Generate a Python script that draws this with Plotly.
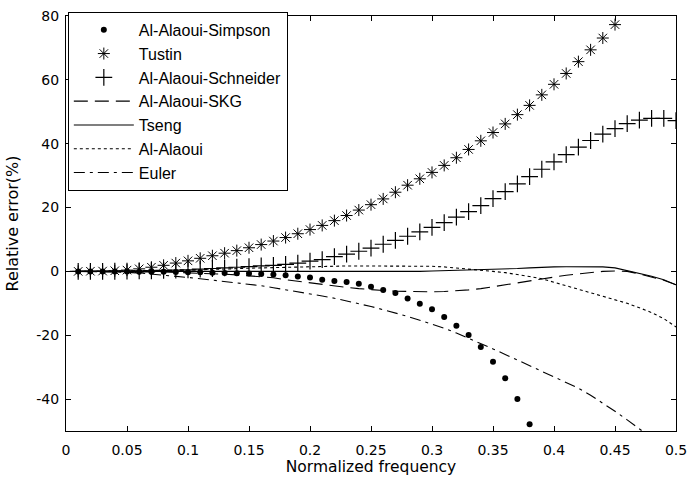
import plotly.graph_objects as go

# Normalized frequency samples
freq = [round(0.01 * k, 2) for k in range(1, 51)]

# Relative error (%) of each discretization method
tustin = [0.0, 0.05, 0.1, 0.2, 0.4, 0.8, 1.3, 1.9, 2.6, 3.3,
          4.1, 4.9, 5.7, 6.5, 7.4, 8.4, 9.5, 10.6, 11.8, 13.1,
          14.4, 15.9, 17.5, 19.2, 20.9, 22.7, 24.8, 27.0, 29.0, 31.0,
          33.2, 35.6, 38.2, 40.9, 43.5, 46.2, 49.1, 52.0, 55.3, 58.6,
          62.0, 65.7, 69.4, 73.1, 77.3]

schneider = [0.0, 0.0, 0.0, 0.05, 0.1, 0.15, 0.2, 0.3, 0.4, 0.5,
             0.7, 0.9, 1.1, 1.3, 1.5, 1.7, 1.9, 2.2, 2.6, 3.2,
             3.7, 4.6, 5.4, 6.3, 7.3, 8.5, 9.7, 11.0, 12.4, 13.8,
             15.3, 17.0, 18.7, 20.6, 22.8, 25.0, 27.4, 29.7, 32.0, 34.3,
             36.6, 38.9, 41.0, 43.0, 44.7, 46.3, 47.4, 47.9, 47.9, 47.2]

simpson = [0.0, 0.0, 0.0, 0.0, -0.05, -0.1, -0.1, -0.15, -0.2, -0.25,
           -0.3, -0.4, -0.5, -0.6, -0.7, -0.8, -1.0, -1.2, -1.6, -1.9,
           -2.6, -3.0, -3.3, -3.9, -4.8, -5.8, -6.8, -8.5, -10.1, -11.9,
           -14.3, -17.0, -19.9, -23.7, -28.3, -33.5, -40.0, -47.9]

skg = [0.0, 0.0, 0.0, -0.02, -0.05, -0.08, -0.12, -0.2, -0.3, -0.4,
       -0.55, -0.7, -0.9, -1.1, -1.35, -1.6, -2.0, -2.6, -3.1, -3.7,
       -4.2, -4.6, -5.0, -5.4, -5.8, -6.0, -6.2, -6.3, -6.35, -6.4,
       -6.3, -6.1, -5.8, -5.4, -4.8, -4.0, -3.4, -2.8, -2.3, -1.8,
       -1.2, -0.8, -0.4, 0.0, 0.1, 0.0, -0.8, -1.8, -2.8, -4.2]

tseng = [0.0, 0.0, 0.0, 0.0, 0.0, 0.0, 0.0, 0.0, 0.0, 0.0,
         0.0, 0.0, -0.02, -0.03, -0.04, -0.05, -0.08, -0.1, -0.12, -0.15,
         -0.18, -0.2, -0.2, -0.2, -0.2, -0.2, -0.15, -0.1, 0.0, 0.1,
         0.2, 0.3, 0.35, 0.4, 0.55, 0.7, 0.9, 1.1, 1.3, 1.4,
         1.45, 1.45, 1.45, 1.4, 1.1, 0.3, -0.5, -1.5, -2.6, -4.2]

alaoui = [0.0, 0.0, 0.02, 0.05, 0.08, 0.12, 0.17, 0.22, 0.28, 0.35,
          0.45, 0.55, 0.7, 0.85, 1.0, 1.1, 1.2, 1.35, 1.45, 1.55,
          1.6, 1.65, 1.7, 1.7, 1.7, 1.7, 1.7, 1.7, 1.65, 1.6,
          1.4, 1.1, 0.7, 0.3, 0.0, -0.4, -0.9, -1.6, -2.3, -3.3,
          -4.5, -5.6, -6.7, -7.8, -8.9, -10.0, -11.4, -12.9, -14.8, -17.4]

euler = [0.0, -0.05, -0.1, -0.2, -0.3, -0.5, -0.8, -1.1, -1.5, -1.9,
         -2.3, -2.7, -3.1, -3.5, -4.0, -4.5, -5.1, -5.7, -6.3, -7.0,
         -7.7, -8.4, -9.2, -10.1, -11.0, -12.0, -13.0, -14.1, -15.3, -16.5,
         -17.8, -19.3, -20.9, -22.6, -24.3, -26.0, -27.8, -29.6, -31.3, -33.0,
         -34.8, -36.6, -38.8, -41.2, -43.8, -46.5, -49.3, -52.2]

x_ticks = [0, 0.05, 0.1, 0.15, 0.2, 0.25, 0.3, 0.35, 0.4, 0.45, 0.5]
x_tick_text = ["0", "0.05", "0.1", "0.15", "0.2", "0.25", "0.3", "0.35", "0.4", "0.45", "0.5"]
y_ticks = [-40, -20, 0, 20, 40, 60, 80]
y_tick_text = ["-40", "-20", "0", "20", "40", "60", "80"]

AXIS_FONT = "DejaVu Sans, sans-serif"
LEGEND_FONT = "Liberation Sans, Arial, sans-serif"

fig = go.Figure()

fig.add_trace(go.Scatter(
    x=freq[:len(simpson)], y=simpson, mode="markers", name="Al-Alaoui-Simpson",
    marker=dict(symbol="circle", size=6, color="black")))
fig.add_trace(go.Scatter(
    x=freq[:len(tustin)], y=tustin, mode="markers", name="Tustin",
    marker=dict(symbol="asterisk-open", size=10, color="black",
                line=dict(width=1, color="black"))))
fig.add_trace(go.Scatter(
    x=freq[:len(schneider)], y=schneider, mode="markers", name="Al-Alaoui-Schneider",
    marker=dict(symbol="cross-thin-open", size=12, color="black",
                line=dict(width=1.2, color="black"))))
fig.add_trace(go.Scatter(
    x=freq, y=skg, mode="lines", name="Al-Alaoui-SKG",
    line=dict(color="black", width=1.1, dash="14px,7px")))
fig.add_trace(go.Scatter(
    x=freq, y=tseng, mode="lines", name="Tseng",
    line=dict(color="black", width=1.1)))
fig.add_trace(go.Scatter(
    x=freq, y=alaoui, mode="lines", name="Al-Alaoui",
    line=dict(color="black", width=1.1, dash="3px,3px")))
fig.add_trace(go.Scatter(
    x=freq[:len(euler)], y=euler, mode="lines", name="Euler",
    line=dict(color="black", width=1.1, dash="11px,5px,3px,5px")))

axis_common = dict(
    showgrid=False, zeroline=False, showline=True, linecolor="black", linewidth=1,
    mirror="allticks", ticks="inside", ticklen=5, tickcolor="black",
    ticklabeloverflow="allow",
    tickfont=dict(family=AXIS_FONT, size=14, color="black"),
)

fig.update_xaxes(
    range=[0, 0.5], tickvals=x_ticks, ticktext=x_tick_text, ticklabelstandoff=6,
    automargin=False,
    title=dict(text="Normalized frequency",
               font=dict(family=AXIS_FONT, size=15.5, color="black"), standoff=4),
    **axis_common)
fig.update_yaxes(
    range=[-50, 80], tickvals=y_ticks, ticktext=y_tick_text, ticklabelstandoff=3,
    title=dict(text="Relative error(%)",
               font=dict(family=AXIS_FONT, size=16, color="black"), standoff=13),
    **axis_common)

fig.update_layout(
    width=687, height=478,
    margin=dict(l=66, r=11, t=8, b=47),
    paper_bgcolor="white", plot_bgcolor="white",
    font=dict(family=AXIS_FONT, color="black"),
    legend=dict(
        x=0.003, y=1.01, xanchor="left", yanchor="top",
        bgcolor="white", bordercolor="black", borderwidth=1,
        font=dict(family=LEGEND_FONT, size=16, color="black"),
        tracegroupgap=0, itemwidth=60,
    ),
)

fig.write_html("out.html")
